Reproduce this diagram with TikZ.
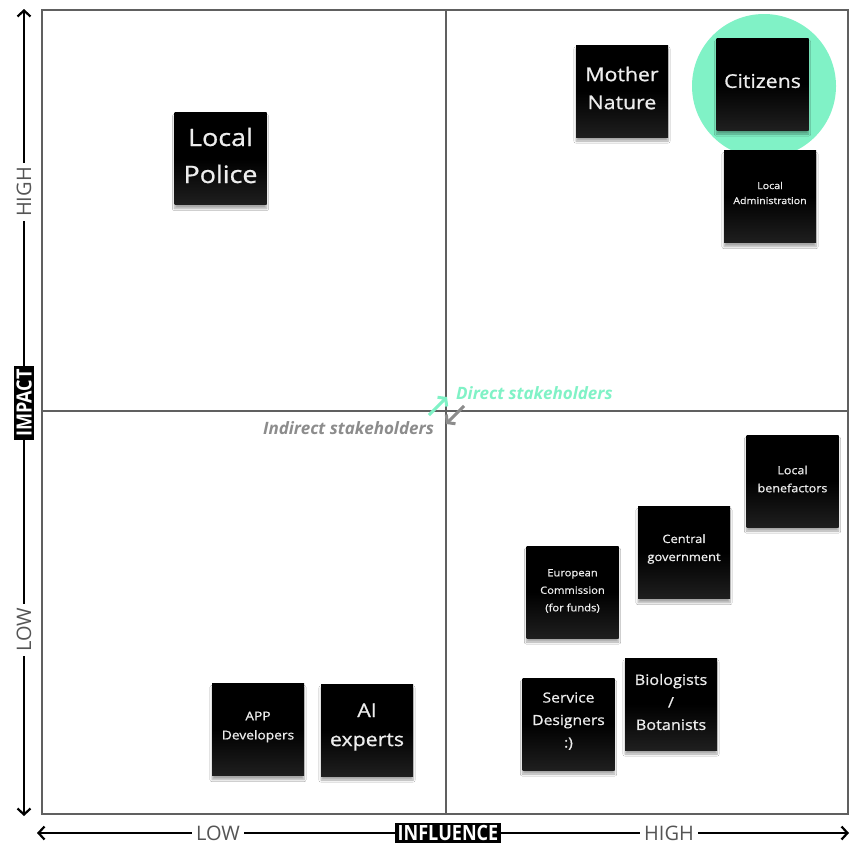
\documentclass[tikz,border=0pt]{standalone}
\usepackage{fontspec}
\setmainfont{Open Sans}
\newfontfamily\condfont[FakeStretch=0.86]{Open Sans}
\newfontfamily\notefont[FakeStretch=1.12,FakeBold=0.8]{Open Sans}
\usetikzlibrary{arrows.meta,shadows.blur}
\definecolor{mint}{HTML}{80F2C6}
\definecolor{gridgray}{HTML}{606060}
\definecolor{labgray}{HTML}{8C8C8C}
\definecolor{axisgray}{HTML}{555555}
\definecolor{notetext}{HTML}{EDEDED}
\begin{document}
\begin{tikzpicture}[x=1pt,y=-1pt,
  note/.style={minimum width=92pt, minimum height=92pt, inner sep=0pt,
    top color=black, bottom color=black!88!white, middle color=black, shading angle=0,
    blur shadow={shadow xshift=0pt, shadow yshift=-4pt, shadow opacity=35, shadow blur steps=6}},
  notetxt/.style={align=center, text=notetext, inner sep=0pt},
  axislab/.style={fill=white, text=axisgray, inner xsep=4pt, inner ysep=2pt, font=\fontsize{20}{22}\selectfont},
  axisbox/.style={fill=black, text=white, inner xsep=3pt, inner ysep=2.5pt, font=\condfont\bfseries\fontsize{21}{22}\selectfont},
  axis/.style={line width=2.4pt, {Straight Barb[length=6pt,width=13pt,line width=2.2pt]}-{Straight Barb[length=6pt,width=13pt,line width=2.2pt]}},
  gridline/.style={draw=gridgray, line width=1.3pt},
  stake/.style={font=\bfseries\itshape\fontsize{17}{20}\selectfont, inner sep=0pt},
  centerarrow/.style={line width=3pt, -{Straight Barb[length=5pt,width=13pt,line width=3pt]}}
]
\useasboundingbox (0,0) rectangle (850,846);
\fill[white] (0,0) rectangle (850,846);

% grid
\draw[gridline] (42,10) rectangle (848,814);
\draw[gridline] (446,10) -- (446,814);
\draw[gridline] (42,411) -- (848,411);

% green highlight
\fill[mint] (764,86) circle (72);

% axes
\coordinate (ytop) at (24,9);
\coordinate (ybot) at (24,816);
\coordinate (xl) at (37,833);
\coordinate (xr) at (849,833);
\draw[axis] (ytop) -- (ybot);
\draw[axis] (xl) -- (xr);
\node[axislab, rotate=90] (yhigh) at (24,192) {HIGH};
\node[axislab, rotate=90] (ylow) at (24,630) {LOW};
\node[axisbox, rotate=90] (yimp) at (24,403) {IMPACT};
\node[axislab] (xlow) at (218,833) {LOW};
\node[axislab] (xhigh) at (669,833) {HIGH};
\node[axisbox] (xinf) at (448,833) {INFLUENCE};

% stakeholder labels
\node[stake, text=mint, anchor=west] (direct) at (456,393) {Direct stakeholders};
\node[stake, text=labgray, anchor=east] (indirect) at (434,428) {Indirect stakeholders};
\coordinate (da) at (429,415);
\coordinate (db) at (447,397);
\coordinate (ia) at (464,406);
\coordinate (ib) at (446,424);
\draw[mint, centerarrow] (da) -- (db);
\draw[labgray, centerarrow] (ia) -- (ib);

% notes
\node[note] (police) at (220.5,158.5) {};
\node[note] (mother) at (622,91) {};
\node[note] (citizens) at (762.5,84) {};
\node[note] (admin) at (770,196.5) {};
\node[note] (benef) at (792.5,481) {};
\node[note] (central) at (684,552.5) {};
\node[note] (euro) at (572.5,592) {};
\node[note] (service) at (568.5,724) {};
\node[note] (bio) at (671,704) {};
\node[note] (app) at (258,729.5) {};
\node[note] (ai) at (367,730) {};

\node[notetxt, font=\notefont\fontsize{24}{37}\selectfont] (policet) at ([yshift=3pt]police.center) {Local\\Police};
\node[notetxt, font=\notefont\fontsize{19}{28}\selectfont] (mothert) at ([yshift=3pt]mother.center) {Mother\\Nature};
\node[notetxt, font=\notefont\fontsize{19}{24}\selectfont] (citizenst) at ([yshift=3pt]citizens.center) {Citizens};
\node[notetxt, font=\notefont\fontsize{9.5}{15}\selectfont] (admint) at ([yshift=3.5pt]admin.center) {Local\\Administration};
\node[notetxt, font=\notefont\fontsize{11.2}{18}\selectfont] (beneft) at ([yshift=2pt]benef.center) {Local\\benefactors};
\node[notetxt, font=\notefont\fontsize{11.5}{18}\selectfont] (centralt) at ([yshift=3.5pt]central.center) {Central\\government};
\node[notetxt, font=\notefont\fontsize{10}{17.5}\selectfont] (eurot) at ([yshift=1pt]euro.center) {European\\Commission\\(for funds)};
\node[notetxt, font=\notefont\fontsize{14}{22.5}\selectfont] (servicet) at ([yshift=3pt]service.center) {Service\\Designers\\:)};
\node[notetxt, font=\notefont\fontsize{14.5}{22.5}\selectfont] (biot) at ([yshift=2pt]bio.center) {Biologists\\/\\Botanists};
\node[notetxt, font=\notefont\fontsize{12.3}{19}\selectfont] (appt) at ([yshift=2.5pt]app.center) {APP\\Developers};
\node[notetxt, font=\notefont\fontsize{19}{29}\selectfont] (ait) at ([yshift=3pt]ai.center) {AI\\experts};
\end{tikzpicture}
\end{document}
